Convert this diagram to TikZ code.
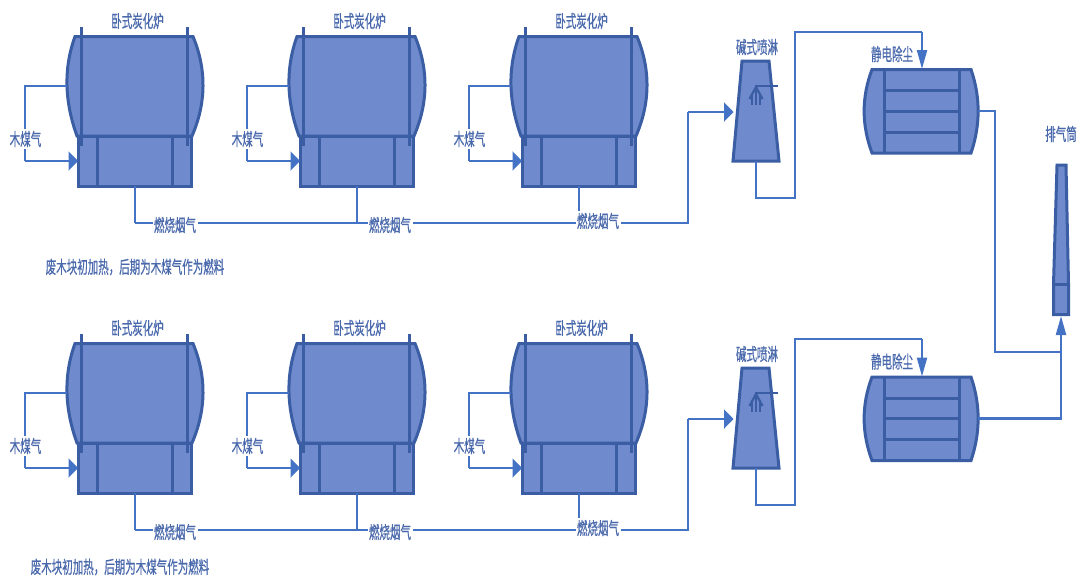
\documentclass[tikz,border=0pt]{standalone}
\usepackage{fontspec}
\usetikzlibrary{arrows.meta}
\newfontfamily\cjkn[FakeStretch=0.6,FakeBold=0.6]{Noto Sans CJK SC}
\definecolor{fillb}{HTML}{6F8ACD}
\definecolor{edgeb}{HTML}{3A5DA3}
\definecolor{pipeb}{HTML}{4472C4}
\definecolor{textb}{HTML}{4A69AC}
\tikzset{
 x=1pt,y=-1pt,
 equip/.style={draw=edgeb,fill=fillb,line width=3pt,line join=miter},
 inner/.style={draw=edgeb,line width=3pt},
 pipe/.style={draw=pipeb,line width=2.2pt},
 harrow/.style={pipe,-{Triangle[length=9.5pt,width=19pt]}},
 varrow/.style={pipe,-{Triangle[length=19pt,width=10pt]}},
 lbl/.style={font=\cjkn\fontsize{17.5}{19}\selectfont,text=textb,inner sep=0.5pt},
 lblw/.style={lbl,fill=white,inner sep=1.5pt},
}
% #1 name, #2 x offset, #3 y offset
\newcommand{\furnace}[3]{
 \begin{scope}[shift={(#2,#3)}]
  \coordinate (#1gasout) at (66.5,86);
  \coordinate (#1gasin) at (78,161);
  \coordinate (#1flue) at (135,186);
  \coordinate (#1gasA) at (25,86);
  \coordinate (#1gasB) at (25,161);
  \coordinate (#1flueB) at (135,223);
  \path[equip] (78,136) rectangle (191,186);
  \path[inner] (97,136) -- (97,186) (172,136) -- (172,186);
  \path[equip] (75,36.5) -- (193,36.5) .. controls (206.7,69.5) and (206.3,103) .. (192,136) -- (77,136) .. controls (65,103) and (63,69.5) .. (75,36.5) -- cycle;
  \path[inner] (81,27) -- (81,146) (187.5,27) -- (187.5,146);
  \draw[pipe] (#1gasout) -- (#1gasA) -- (#1gasB);
  \draw[harrow] (#1gasB) -- (#1gasin);
  \draw[pipe] (#1flue) -- (#1flueB);
  \node[lbl] (#1title) at (137.5,21) {卧式炭化炉};
  \node[lblw] (#1gas) at (25.5,139) {木煤气};
 \end{scope}
}
% scrubber + ESP
\newcommand{\treat}[3]{
 \begin{scope}[shift={(0,#2)}]
  \coordinate (#1in) at (733.5,112);
  \coordinate (#1bend) at (688,112);
  \coordinate (#1corner) at (688,223);
  \coordinate (#1out) at (756,161);
  \coordinate (#1p1) at (756,198);
  \coordinate (#1p2) at (795,198);
  \coordinate (#1p3) at (795,32);
  \coordinate (#1p4) at (922,32);
  \coordinate (#1start) at (135,223);
  \draw[pipe] (#1start) -- (#1corner) -- (#1bend);
  \draw[harrow] (#1bend) -- (#1in);
  \path[equip] (742,61) -- (769,61) -- (779,161) -- (733,161) -- cycle;
  \path[inner,line width=2.4pt] (778,86) -- (756,86) -- (756,105);
  \path[inner,line width=2.2pt] (752,105) -- (752,93) (760,105) -- (760,93);
  \path[inner,line width=2.2pt] (749.5,99) -- (756,87) -- (762.5,99);
  \draw[pipe] (#1out) -- (#1p1) -- (#1p2) -- (#1p3) -- (#1p4);
 \end{scope}
 \begin{scope}[shift={(0,#3)}]
  \coordinate (#1esp) at (922,69);
  \coordinate (#1espout) at (978,111);
  \path[equip] (872,69.5) -- (971,69.5) .. controls (980.5,97) and (980.5,125) .. (971,153) -- (872,153) .. controls (861.5,125) and (861.5,97) .. (872,69.5) -- cycle;
  \path[inner] (884,69.5) -- (884,153) (959,69.5) -- (959,153)
    (884,90.5) -- (959,90.5) (884,111) -- (959,111) (884,132) -- (959,132);
 \end{scope}
 \begin{scope}[shift={(0,#2)}]
  \coordinate (#1top) at (922,32);
  \node[lbl] (#1lbl) at (757,47) {碱式喷淋};
 \end{scope}
 \begin{scope}[shift={(0,#3)}]
  \node[lbl] (#1esplbl) at (892,54) {静电除尘};
 \end{scope}
 \draw[varrow] (#1top) -- (#1esp);
}
\begin{document}
\begin{tikzpicture}
\useasboundingbox (0,0) rectangle (1078,579);
\treat{a}{0}{0}
\treat{b}{307}{307.5}
\furnace{p}{0}{0}
\furnace{q}{222}{0}
\furnace{r}{444}{0}
\furnace{s}{0}{307}
\furnace{t}{222}{307}
\furnace{u}{444}{307}
\node[lblw] (f1) at (175,225) {燃烧烟气};
\node[lblw] (f2) at (390,225) {燃烧烟气};
\node[lblw] (f3) at (598,221) {燃烧烟气};
\node[lblw] (f4) at (175,532) {燃烧烟气};
\node[lblw] (f5) at (390,532) {燃烧烟气};
\node[lblw] (f6) at (598,528) {燃烧烟气};
\node[lbl] (n1) at (135,267) {废木块初加热，后期为木煤气作为燃料};
\node[lbl] (n2) at (120,567) {废木块初加热，后期为木煤气作为燃料};
% stack
\coordinate (stackbase) at (1061,316);
\coordinate (j1) at (995,111);
\coordinate (j2) at (995,352);
\coordinate (j3) at (1061,352);
\coordinate (j4) at (1061,418.5);
\draw[pipe] (aespout) -- (j1) -- (j2) -- (j3);
\draw[varrow] (bespout) -- (j4) -- (stackbase);
\path[equip] (1057,165) -- (1066,165) -- (1068.5,284) -- (1068.5,314.5) -- (1053.5,314.5) -- (1053.5,284) -- cycle;
\path[inner] (1053.5,284) -- (1068.5,284);
\node[lbl] (stacklbl) at (1061,134) {排气筒};
\end{tikzpicture}
\end{document}
